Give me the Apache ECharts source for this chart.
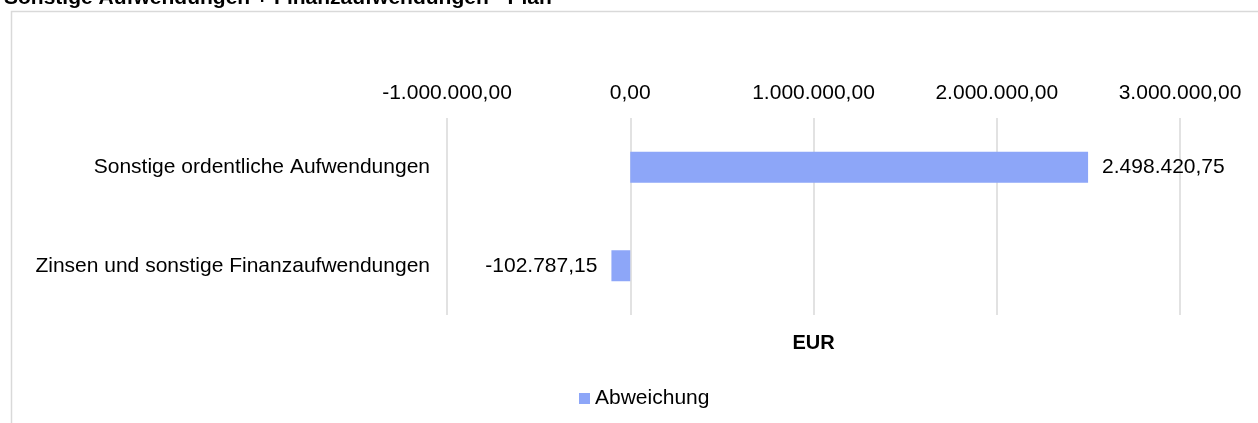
<!DOCTYPE html>
<html>
<head>
<meta charset="utf-8">
<script src="https://cdn.jsdelivr.net/npm/echarts@6/dist/echarts.min.js"></script>
<style>
html,body{margin:0;padding:0;background:#fff;}
#chart{width:1258px;height:423px;}
</style>
</head>
<body>
<div id="chart"></div>
<script>
const titleText = 'Sonstige Aufwendungen + Finanzaufwendungen - Plan';
const categories = ['Sonstige ordentliche Aufwendungen', 'Zinsen und sonstige Finanzaufwendungen'];
const seriesName = 'Abweichung';
const values = [2498420.75, -102787.15];
const axisMin = -1000000;
const axisMax = 3000000;
const axisInterval = 1000000;
const axisName = 'EUR';

function fmt(v) {
  const neg = v < 0;
  const abs = Math.abs(v);
  const parts = abs.toFixed(2).split('.');
  const intPart = parts[0].replace(/\B(?=(\d{3})+(?!\d))/g, '.');
  return (neg ? '-' : '') + intPart + ',' + parts[1];
}

const font = 'Liberation Sans, Arial, sans-serif';
const fs = 21;
const chart = echarts.init(document.getElementById('chart'), null, {renderer: 'canvas'});
chart.setOption({
  animation: false,
  backgroundColor: '#ffffff',
  title: {
    text: titleText,
    left: 4,
    top: -12,
    padding: 0,
    textStyle: {fontFamily: font, fontSize: 21, fontWeight: 'bold', color: '#000'}
  },
  graphic: [{
    type: 'rect',
    shape: {x: 11.5, y: 11.5, width: 1400, height: 600},
    style: {fill: null, stroke: '#d9d9d9', lineWidth: 1.5},
    silent: true
  }],
  legend: {
    bottom: 9,
    left: 574,
    itemWidth: 11,
    itemHeight: 11,
    itemGap: 10,
    icon: 'rect',
    textStyle: {fontFamily: font, fontSize: fs, color: '#000'},
    data: [seriesName]
  },
  grid: {left: 447, right: 78, top: 118, bottom: 108, containLabel: false},
  xAxis: [{
    type: 'value',
    position: 'top',
    min: axisMin,
    max: axisMax,
    interval: axisInterval,
    axisLine: {show: false},
    axisTick: {show: false},
    splitLine: {show: true, lineStyle: {color: '#d9d9d9', width: 1.5}},
    axisLabel: {fontFamily: font, fontSize: fs, color: '#000', margin: 14, formatter: fmt}
  }, {
    type: 'value',
    position: 'bottom',
    min: axisMin,
    max: axisMax,
    interval: axisInterval,
    name: axisName,
    nameLocation: 'middle',
    nameGap: 18,
    nameTextStyle: {fontFamily: font, fontSize: 20, fontWeight: 'bold', color: '#000'},
    axisLine: {show: false},
    axisTick: {show: false},
    splitLine: {show: false},
    axisLabel: {show: false}
  }],
  yAxis: {
    type: 'category',
    inverse: true,
    data: categories,
    axisLine: {show: false},
    axisTick: {show: false},
    axisLabel: {fontFamily: font, fontSize: fs, color: '#000', margin: 17}
  },
  series: [{
    name: seriesName,
    type: 'bar',
    xAxisIndex: 0,
    data: values.map(v => v < 0 ? {value: v, label: {position: 'left'}} : v),
    barWidth: 31,
    itemStyle: {color: '#8da6f8'},
    label: {
      show: true,
      fontFamily: font,
      fontSize: fs,
      color: '#000',
      distance: 14,
      position: 'right',
      formatter: p => fmt(p.value)
    }
  }]
});
</script>
</body>
</html>
